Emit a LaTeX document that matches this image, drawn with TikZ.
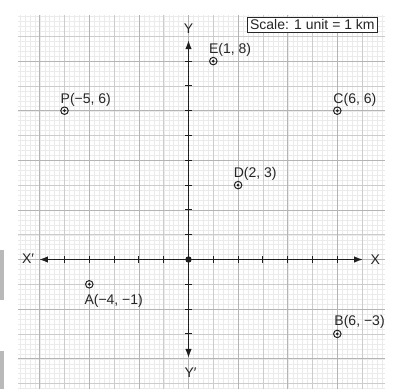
\documentclass[tikz,border=0pt]{standalone}
\usepackage{fontspec}
\setmainfont{Liberation Sans}
\usetikzlibrary{arrows.meta}
\tikzset{
  finegrid/.style={draw=gray!16,line width=0.3pt},
  unitgrid/.style={draw=gray!40,line width=0.55pt},
  evengrid/.style={draw=gray!58,line width=0.75pt},
  axis/.style={draw=black!88,line width=1.5pt},
  tick/.style={draw=black!88,line width=1pt},
  tip/.style={-{Latex[length=9pt,width=6.5pt]}},
  pt/.style={circle,draw=black!88,line width=1pt,minimum size=7.5pt,inner sep=0pt,
    path picture={\fill[black!88] (path picture bounding box.center) circle (1.5pt);}},
  lbl/.style={inner sep=0pt,anchor=base west,font=\fontsize{14}{15}\selectfont,text=black!85},
  axlbl/.style={inner sep=0pt,font=\fontsize{14}{15}\selectfont,text=black!85},
  scalebox/.style={draw=black!85,line width=0.9pt,fill=white,inner sep=0pt,
    minimum width=130.7pt,minimum height=15pt,font=\fontsize{14}{15}\selectfont,text=black!85},
  scanbar/.style={fill=gray!55,draw=none}
}
\begin{document}
\begin{tikzpicture}[x=24.8pt,y=24.8pt]
\useasboundingbox[fill=white] (-7.601,-5.222) rectangle (8.246,10.464);
% graph paper
\path[finegrid] (-6.875,-5.222) grid[step=0.2] (7.92,9.86);
\path[unitgrid] (-6.875,-5.222) grid[step=1] (7.92,9.86);
\path[evengrid] (-6.875,-5.222) grid[step=2] (7.92,9.86);
% scanning shadows at the left edge
\path[scanbar] (-7.601,0.383) rectangle (-7.44,-1.633);
\path[scanbar] (-7.601,-3.677) rectangle (-7.44,-5.222);
% axes
\coordinate (O) at (0,0);
\coordinate (xl) at (-6.03,0);
\coordinate (xr) at (7.04,0);
\coordinate (yt) at (0,8.85);
\coordinate (yb) at (0,-3.97);
\draw[axis,tip] (O) -- (xr);
\draw[axis,tip] (O) -- (xl);
\draw[axis,tip] (O) -- (yt);
\draw[axis,tip] (O) -- (yb);
\foreach \x in {-5,...,-1,1,2,...,6} \draw[tick] (\x,-3.5pt) -- (\x,3.5pt);
\foreach \y in {-3,...,-1,1,2,...,8} \draw[tick] (-3.5pt,\y) -- (3.5pt,\y);
\fill[black!88] (O) circle (3.2pt);
\node[axlbl] (Xp) at (-6.47,0.02) {X′};
\node[axlbl] (X) at (7.53,0) {X};
\node[axlbl] (Y) at (0,9.3) {Y};
\node[axlbl] (Yp) at (0.08,-4.55) {Y′};
% scale
\node[scalebox] (S) at (4.994,9.464) {Scale: 1 unit = 1 km};
% points
\node[pt] (P) at (-5,6) {};
\node[pt] (E) at (1,8) {};
\node[pt] (C) at (6,6) {};
\node[pt] (D) at (2,3) {};
\node[pt] (A) at (-4,-1) {};
\node[pt] (B) at (6,-3) {};
\path (P.center) ++(-4pt,7.5pt) node[lbl] (Pl) {P(−5, 6)};
\path (E.center) ++(-4.5pt,7.5pt) node[lbl] (El) {E(1, 8)};
\path (C.center) ++(-4pt,7pt) node[lbl] (Cl) {C(6, 6)};
\path (D.center) ++(-4.5pt,7.5pt) node[lbl] (Dl) {D(2, 3)};
\path (A.center) ++(-5pt,-20pt) node[lbl] (Al) {A(−4, −1)};
\path (B.center) ++(-3pt,8pt) node[lbl] (Bl) {B(6, −3)};
\end{tikzpicture}
\end{document}
